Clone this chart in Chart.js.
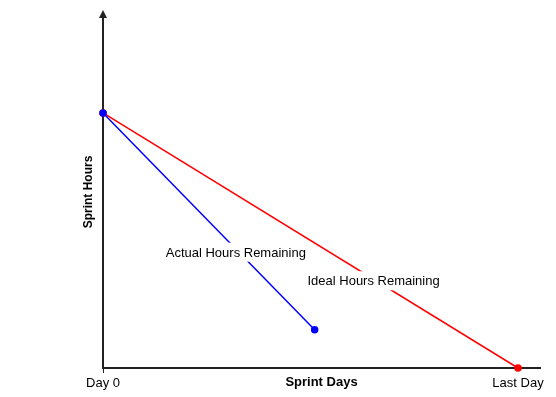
<!DOCTYPE html>
<html>
<head>
<meta charset="utf-8">
<script src="https://cdn.jsdelivr.net/npm/chart.js@4"></script>
<style>
    html, body { margin: 0; padding: 0; background: #fff; }
    #wrap { width: 556px; height: 397px; }
</style>
</head>
<body>
<div id="wrap"><canvas id="burndown" width="556" height="397"></canvas></div>
<script>
// Sprint days (x) and remaining hours (y)
const idealDays = [0, 10];
const idealHours = [100, 0];
const actualDays = [0, 5.1];
const actualHours = [100, 15];

// Tick labels on the day axis
const tickDays = [0, 10];
const tickLabels = ['Day 0', 'Last Day'];

// In-chart line captions, anchored on the lines
const captionText = ['Actual Hours Remaining', 'Ideal Hours Remaining'];
const captionDays = [3.2, 6.52];
const captionHours = [45.4, 34.2];

const toPoints = (xs, ys) => xs.map((x, i) => ({ x: x, y: ys[i] }));

Chart.defaults.font.family = "'Liberation Sans', Arial, sans-serif";
Chart.defaults.font.size = 13;
Chart.defaults.color = '#000';

const axisColor = '#222';

// White-boxed captions over the lines
const captionPlugin = {
    id: 'captions',
    afterDatasetsDraw(chart) {
        const { ctx, scales: { x, y } } = chart;
        ctx.save();
        ctx.font = "13px 'Liberation Sans', Arial, sans-serif";
        ctx.textAlign = 'center';
        ctx.textBaseline = 'middle';
        captionText.forEach((txt, i) => {
            const px = x.getPixelForValue(captionDays[i]);
            const py = y.getPixelForValue(captionHours[i]);
            const w = ctx.measureText(txt).width;
            ctx.fillStyle = '#fff';
            ctx.fillRect(px - w / 2 - 2, py - 9.5, w + 4, 19);
            ctx.fillStyle = '#000';
            ctx.fillText(txt, px, py + 1);
        });
        ctx.restore();
    }
};

// Arrowhead on top of the hours axis
const arrowPlugin = {
    id: 'arrow',
    afterDraw(chart) {
        const { ctx, chartArea } = chart;
        const ax = chartArea.left;
        const top = chartArea.top;
        ctx.save();
        ctx.fillStyle = axisColor;
        ctx.beginPath();
        ctx.moveTo(ax, top - 6);
        ctx.lineTo(ax - 4, top + 2);
        ctx.lineTo(ax + 4, top + 2);
        ctx.closePath();
        ctx.fill();
        ctx.restore();
    }
};

new Chart(document.getElementById('burndown'), {
    type: 'line',
    data: {
        datasets: [
            {
                label: 'Actual Hours Remaining',
                data: toPoints(actualDays, actualHours),
                borderColor: '#0000ff',
                backgroundColor: '#0000ff',
                borderWidth: 1.5,
                pointRadius: 3,
                tension: 0,
                clip: false
            },
            {
                label: 'Ideal Hours Remaining',
                data: toPoints(idealDays, idealHours),
                borderColor: '#ff0000',
                backgroundColor: '#ff0000',
                borderWidth: 1.5,
                pointRadius: 3,
                tension: 0,
                clip: false
            }
        ]
    },
    options: {
        responsive: false,
        animation: false,
        layout: { padding: { left: 78, right: 16, top: 16, bottom: 7 } },
        plugins: {
            legend: { display: false },
            tooltip: { enabled: false }
        },
        scales: {
            x: {
                type: 'linear',
                min: 0,
                max: 10.53,
                afterBuildTicks: (scale) => {
                    scale.ticks = tickDays.map(v => ({ value: v }));
                },
                afterFit: (scale) => {
                    scale.height = 22;
                    scale.paddingLeft = 0;
                    scale.paddingRight = 0;
                },
                ticks: {
                    autoSkip: false,
                    maxRotation: 0,
                    padding: 3,
                    font: { size: 13 },
                    callback: (value) => tickLabels[tickDays.indexOf(value)]
                },
                grid: {
                    drawOnChartArea: false,
                    tickLength: 5,
                    color: (c) => (c.tick && c.tick.value === 0 ? axisColor : 'rgba(0,0,0,0)')
                },
                border: { display: true, color: axisColor, width: 2 },
                title: {
                    display: true,
                    text: 'Sprint Days',
                    font: { weight: 'bold', size: 13 },
                    padding: 0
                }
            },
            y: {
                min: 0,
                max: 138,
                afterFit: (scale) => {
                    scale.width = 25;
                    scale.paddingTop = 0;
                    scale.paddingBottom = 0;
                },
                ticks: { display: false },
                grid: { display: false },
                border: { display: true, color: axisColor, width: 2 },
                title: {
                    display: true,
                    text: 'Sprint Hours',
                    font: { weight: 'bold', size: 12 },
                    padding: { top: 3, bottom: 0 }
                }
            }
        }
    },
    plugins: [captionPlugin, arrowPlugin]
});
</script>
</body>
</html>
